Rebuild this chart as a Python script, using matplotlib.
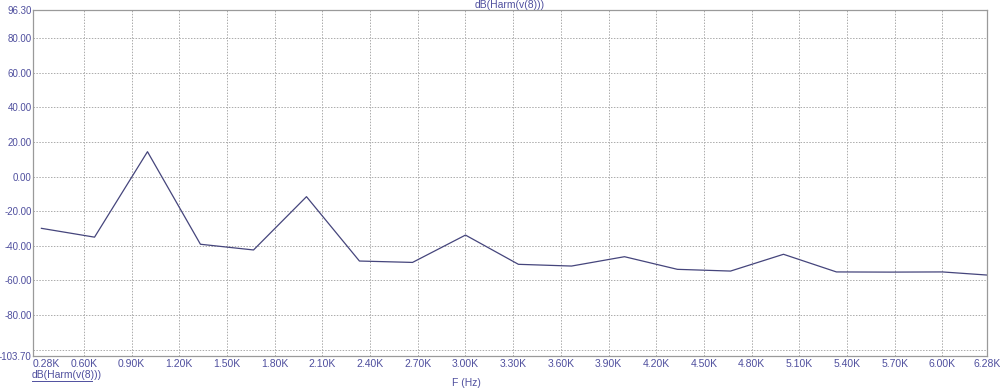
import matplotlib.pyplot as plt
from matplotlib.lines import Line2D

# harmonic spectrum (freq in kHz, level in dB)
freq_k = [0.333, 0.667, 1.0, 1.333, 1.667, 2.0, 2.333, 2.667, 3.0, 3.333,
          3.667, 4.0, 4.333, 4.667, 5.0, 5.333, 5.667, 6.0, 6.28]
level_db = [-29.9, -35.0, 14.4, -39.1, -42.4, -11.6, -48.8, -49.6, -33.8, -50.7,
            -51.7, -46.3, -53.6, -54.6, -44.9, -55.1, -55.2, -55.1, -56.9]

x_ticks = [0.28, 0.60, 0.90, 1.20, 1.50, 1.80, 2.10, 2.40, 2.70, 3.00, 3.30,
           3.60, 3.90, 4.20, 4.50, 4.80, 5.10, 5.40, 5.70, 6.00, 6.28]
y_ticks = [-103.7, -100, -80, -60, -40, -20, 0, 20, 40, 60, 80, 96.3]
y_labels = ['-103.70', '', '-80.00', '-60.00', '-40.00', '-20.00', '0.00',
            '20.00', '40.00', '60.00', '80.00', '96.30']

txt_col = '#4f4f9e'
line_col = '#45457c'

plt.rcParams['font.family'] = ['Liberation Sans', 'DejaVu Sans']

fig = plt.figure(figsize=(10, 3.92), dpi=100)
ax = fig.add_axes([0.033, 0.0918, 0.954, 0.8827])

ax.plot(freq_k, level_db, color=line_col, lw=0.9)

ax.set_xlim(0.28, 6.28)
ax.set_ylim(-103.7, 96.3)
ax.set_xticks(x_ticks)
ax.set_xticklabels([f'{v:.2f}K' for v in x_ticks])
ax.set_yticks(y_ticks)
ax.set_yticklabels(y_labels)
ax.get_xticklabels()[0].set_horizontalalignment('left')

ax.tick_params(length=0, labelsize=7.5, labelcolor=txt_col)
ax.tick_params(axis='y', pad=1, labelsize=7)
ax.tick_params(axis='x', pad=2)
ax.grid(True, color='#ababab', ls=(0, (1.5, 1.5)), lw=0.7)
for s in ax.spines.values():
    s.set_color('#9a9a9a')
    s.set_linewidth(0.9)

fig.text(0.510, 0.988, 'dB(Harm(v(8)))', ha='center', va='center',
         fontsize=7.5, color=txt_col)
fig.text(0.032, 0.043, 'dB(Harm(v(8)))', ha='left', va='center',
         fontsize=7.5, color=txt_col)
fig.add_artist(Line2D([0.032, 0.092], [0.028, 0.028], color=txt_col, lw=0.7))
fig.text(0.466, 0.022, 'F (Hz)', ha='center', va='center',
         fontsize=7.5, color=txt_col)

fig.savefig('out.png', dpi=100, facecolor='white')
